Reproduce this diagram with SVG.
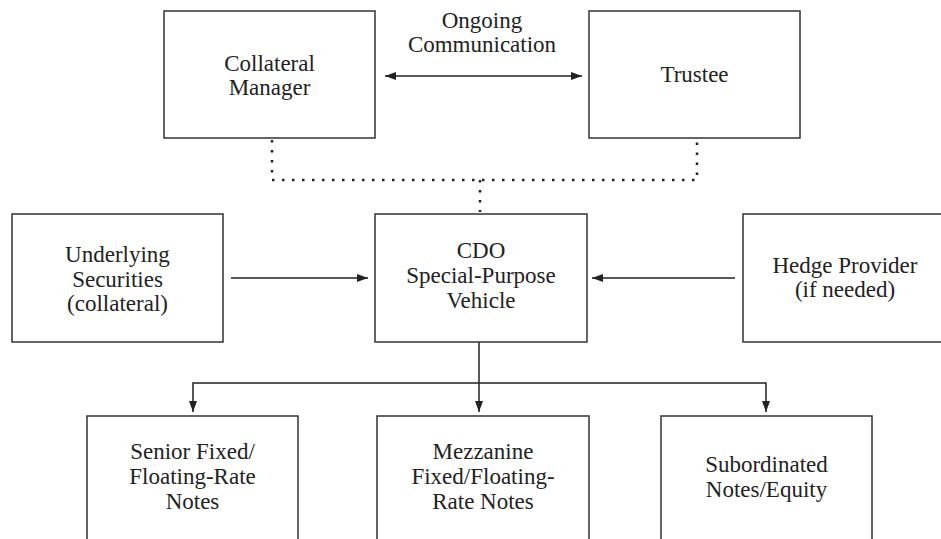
<svg xmlns="http://www.w3.org/2000/svg" width="941" height="539" viewBox="0 0 941 539">
<style>
  .box { fill: #ffffff; stroke: #333333; stroke-width: 1.5; }
  .t { font-family: 'Liberation Serif', 'DejaVu Serif', 'Times New Roman', Times, serif; font-size: 23px; fill: #222222; text-anchor: middle; }
  .line { fill: none; stroke: #222222; stroke-width: 1.5; }
  .dot { fill: none; stroke: #222222; stroke-width: 2.5; stroke-dasharray: 2.5 7.5; }
</style>
<defs>
  <marker id="ah" viewBox="0 0 11 8" refX="11" refY="4" markerWidth="11" markerHeight="8" markerUnits="userSpaceOnUse" orient="auto-start-reverse">
    <path d="M0,0 L11,4 L0,8 z" fill="#222222"/>
  </marker>
</defs>
<rect width="941" height="539" fill="#ffffff"/>

<g id="connectors">
  <line class="line" x1="385" y1="76" x2="582" y2="76" marker-start="url(#ah)" marker-end="url(#ah)"/>
  <text class="t" x="482" y="28">Ongoing</text>
  <text class="t" x="482" y="52">Communication</text>
  <path class="dot" d="M272,140 L272,180 L697,180 L697,140"/>
  <path class="dot" d="M480,180 L480,212"/>
  <line class="line" x1="231" y1="278" x2="368" y2="278" marker-end="url(#ah)"/>
  <line class="line" x1="735" y1="278" x2="592" y2="278" marker-end="url(#ah)"/>
  <line class="line" x1="479" y1="342" x2="479" y2="412" marker-end="url(#ah)"/>
  <path class="line" d="M193,412 L193,383 L766,383 L766,412" marker-start="url(#ah)" marker-end="url(#ah)"/>
</g>

<g id="collateral-manager">
  <rect class="box" x="164" y="11" width="211" height="127"/>
  <text class="t" x="269.5" y="71">Collateral</text>
  <text class="t" x="269.5" y="95">Manager</text>
</g>
<g id="trustee">
  <rect class="box" x="589" y="11" width="211" height="127"/>
  <text class="t" x="694.5" y="82">Trustee</text>
</g>
<g id="underlying">
  <rect class="box" x="12" y="214" width="211" height="128"/>
  <text class="t" x="117.5" y="262">Underlying</text>
  <text class="t" x="117.5" y="287">Securities</text>
  <text class="t" x="117.5" y="311">(collateral)</text>
</g>
<g id="cdo-spv">
  <rect class="box" x="375" y="214" width="212" height="128"/>
  <text class="t" x="481" y="258">CDO</text>
  <text class="t" x="481" y="283">Special-Purpose</text>
  <text class="t" x="481" y="308">Vehicle</text>
</g>
<g id="hedge-provider">
  <rect class="box" x="743" y="214" width="212" height="128"/>
  <text class="t" x="845" y="273">Hedge Provider</text>
  <text class="t" x="845" y="297">(if needed)</text>
</g>
<g id="senior-notes">
  <rect class="box" x="87" y="416" width="211" height="135"/>
  <text class="t" x="192.5" y="459">Senior Fixed/</text>
  <text class="t" x="192.5" y="484">Floating-Rate</text>
  <text class="t" x="192.5" y="509">Notes</text>
</g>
<g id="mezzanine-notes">
  <rect class="box" x="377" y="416" width="212" height="135"/>
  <text class="t" x="483" y="459">Mezzanine</text>
  <text class="t" x="483" y="484">Fixed/Floating-</text>
  <text class="t" x="483" y="509">Rate Notes</text>
</g>
<g id="subordinated-notes">
  <rect class="box" x="661" y="416" width="211" height="135"/>
  <text class="t" x="766.5" y="472">Subordinated</text>
  <text class="t" x="766.5" y="497">Notes/Equity</text>
</g>
</svg>
